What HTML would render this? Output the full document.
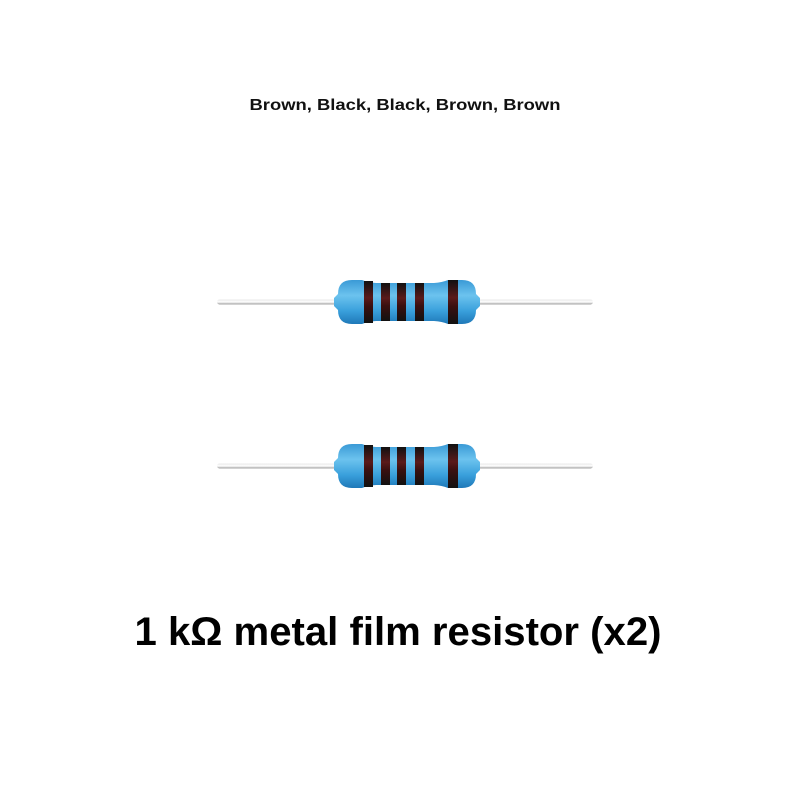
<!DOCTYPE html>
<html><head><style>html,body{margin:0;padding:0;background:#fff;}svg{display:block}</style></head>
<body>
<svg width="800" height="800" viewBox="0 0 800 800" xmlns="http://www.w3.org/2000/svg">
<defs>
<linearGradient id="lead" x1="0" y1="0" x2="0" y2="1">
<stop offset="0" stop-color="#e8e8e8"/><stop offset="0.5" stop-color="#ffffff"/><stop offset="1" stop-color="#9a9a9a"/>
</linearGradient>
<linearGradient id="body" x1="0" y1="0" x2="0" y2="1">
<stop offset="0" stop-color="#3a9ad6"/><stop offset="0.35" stop-color="#6cc3ee"/><stop offset="0.7" stop-color="#3aa0dc"/><stop offset="1" stop-color="#1f78b8"/>
</linearGradient>
<linearGradient id="band" x1="0" y1="0" x2="0" y2="1">
<stop offset="0" stop-color="#111"/><stop offset="0.4" stop-color="#5a1a1a"/><stop offset="0.6" stop-color="#3a1010"/><stop offset="1" stop-color="#111"/>
</linearGradient>
<g id="res">
<rect x="217" y="-2.5" width="376" height="5" rx="2.5" fill="url(#lead)"/>
<path d="M338,-8 Q338,-22 352,-22 L362,-22 Q368,-19.5 376,-19 L434,-19 Q442,-19.5 448,-22 L462,-22 Q476,-22 476,-8 L480,-4 L480,4 L476,8 Q476,22 462,22 L448,22 Q442,19.5 434,19 L376,19 Q368,19.5 362,22 L352,22 Q338,22 338,8 L334,4 L334,-4 Z" fill="url(#body)"/>
<rect x="364" y="-21" width="9" height="42" fill="url(#band)"/>
<rect x="381" y="-19" width="9" height="38" fill="url(#band)"/>
<rect x="397" y="-19" width="9" height="38" fill="url(#band)"/>
<rect x="415" y="-19" width="9" height="38" fill="url(#band)"/>
<rect x="448" y="-22" width="10" height="44" fill="url(#band)"/>
</g>
</defs>
<text x="405" y="110" text-anchor="middle" font-family="Liberation Sans, sans-serif" font-weight="bold" font-size="16" textLength="311" lengthAdjust="spacingAndGlyphs" fill="#111">Brown, Black, Black, Brown, Brown</text>
<use href="#res" transform="translate(0,302)"/>
<use href="#res" transform="translate(0,466)"/>
<text x="398" y="645" text-anchor="middle" font-family="Liberation Sans, sans-serif" font-weight="bold" font-size="40" textLength="527" lengthAdjust="spacingAndGlyphs" fill="#000">1 kΩ metal film resistor (x2)</text>
</svg>
</body></html>
